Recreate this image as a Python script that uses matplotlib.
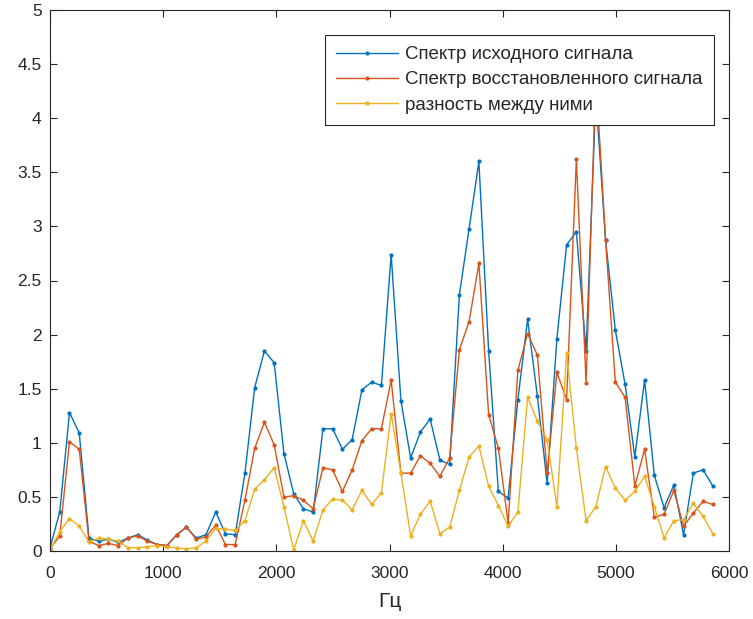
import numpy as np
import matplotlib
matplotlib.use('Agg')
import matplotlib.pyplot as plt

# frequency bins (44100/512 Hz step)
freq = np.arange(69) * 44100 / 512

original = [0.03, 0.36, 1.28, 1.09, 0.12, 0.09, 0.11, 0.08, 0.12, 0.15,
            0.10, 0.06, 0.05, 0.15, 0.22, 0.12, 0.15, 0.36, 0.16, 0.15,
            0.72, 1.51, 1.85, 1.74, 0.90, 0.53, 0.39, 0.36, 1.13, 1.13,
            0.94, 1.03, 1.49, 1.56, 1.53, 2.74, 1.39, 0.86, 1.10, 1.22,
            0.84, 0.80, 2.37, 2.98, 3.60, 1.85, 0.55, 0.49, 1.40, 2.14,
            1.43, 0.63, 1.96, 2.83, 2.95, 1.85, 4.20, 2.87, 2.04, 1.54,
            0.87, 1.58, 0.70, 0.40, 0.61, 0.15, 0.72, 0.75, 0.60]

restored = [0.02, 0.14, 1.01, 0.94, 0.09, 0.05, 0.07, 0.05, 0.12, 0.14,
            0.09, 0.06, 0.05, 0.15, 0.22, 0.11, 0.13, 0.24, 0.06, 0.06,
            0.47, 0.95, 1.19, 0.98, 0.50, 0.51, 0.47, 0.39, 0.77, 0.75,
            0.55, 0.75, 1.02, 1.13, 1.13, 1.58, 0.72, 0.72, 0.88, 0.81,
            0.69, 0.86, 1.86, 2.12, 2.66, 1.26, 0.95, 0.26, 1.67, 2.01,
            1.81, 0.72, 1.65, 1.40, 3.62, 1.55, 4.40, 2.87, 1.56, 1.42,
            0.60, 0.94, 0.31, 0.34, 0.56, 0.23, 0.35, 0.46, 0.43]

difference = [0.01, 0.18, 0.30, 0.23, 0.08, 0.12, 0.11, 0.09, 0.03, 0.03,
              0.04, 0.05, 0.04, 0.03, 0.02, 0.03, 0.09, 0.21, 0.20, 0.19,
              0.28, 0.57, 0.66, 0.77, 0.41, 0.01, 0.28, 0.09, 0.38, 0.48,
              0.47, 0.38, 0.56, 0.43, 0.54, 1.27, 0.72, 0.14, 0.34, 0.46,
              0.16, 0.22, 0.56, 0.87, 0.97, 0.60, 0.42, 0.23, 0.36, 1.42,
              1.20, 1.03, 0.41, 1.83, 0.95, 0.28, 0.41, 0.78, 0.58, 0.47,
              0.55, 0.69, 0.41, 0.12, 0.28, 0.29, 0.44, 0.32, 0.16]

labels = ['Спектр исходного сигнала',
          'Спектр восстановленного сигнала',
          'разность между ними']
colors = ['#0072BD', '#D95319', '#EDB120']

plt.rcParams['font.family'] = ['Liberation Sans', 'DejaVu Sans']
dark = '#262626'

fig = plt.figure(figsize=(7.53, 6.19), dpi=100)
ax = fig.add_axes([50 / 753, 68 / 619, 679 / 753, 541 / 619])

for series, lab, col in zip([original, restored, difference], labels, colors):
    ax.plot(freq, series, '.-', color=col, lw=1.0, ms=4, label=lab)

ax.set_xlim(0, 6000)
ax.set_ylim(0, 5)
ax.set_xticks(np.arange(0, 6001, 1000))
ax.set_yticks(np.arange(0, 5.01, 0.5))
ax.set_yticklabels(['0', '0.5', '1', '1.5', '2', '2.5', '3', '3.5', '4', '4.5', '5'])
ax.tick_params(direction='in', top=True, right=True, length=5, width=0.8,
               labelsize=12.5, colors=dark)
ax.tick_params(axis='y', pad=6)
ax.tick_params(axis='x', pad=11)
for s in ax.spines.values():
    s.set_color(dark)
    s.set_linewidth(0.8)
ax.set_xlabel('Гц', fontsize=15, color=dark, labelpad=8)

leg = ax.legend(loc='upper right', bbox_to_anchor=(0.978, 0.954), borderaxespad=0,
                fontsize=13.5, fancybox=False, framealpha=1, handlelength=3.3,
                handletextpad=0.4, borderpad=0.6, labelspacing=0.43)
leg.get_frame().set_edgecolor(dark)
leg.get_frame().set_linewidth(0.8)
for t in leg.get_texts():
    t.set_color(dark)

fig.savefig('out.png', dpi=100)
